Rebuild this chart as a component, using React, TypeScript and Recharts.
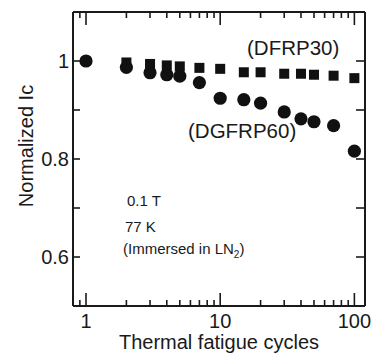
import React from 'react';
import { ScatterChart, Scatter, XAxis, YAxis } from 'recharts';

const cyclesDGFRP60 = [1, 2, 3, 4, 5, 7, 10, 15, 20, 30, 40, 50, 70, 100];
const icDGFRP60 = [1.0, 0.987, 0.976, 0.972, 0.969, 0.956, 0.924, 0.921, 0.914, 0.896, 0.882, 0.876, 0.868, 0.816];
const cyclesDFRP30 = [2, 3, 4, 5, 7, 10, 15, 20, 30, 40, 50, 70, 100];
const icDFRP30 = [0.997, 0.994, 0.991, 0.989, 0.986, 0.984, 0.977, 0.977, 0.974, 0.974, 0.972, 0.970, 0.965];

const xMajorTicks = [1, 10, 100];
const xMinorTicks = [0.9, 2, 3, 4, 5, 6, 7, 8, 9, 20, 30, 40, 50, 60, 70, 80, 90];
const yMajorTicks = [0.6, 0.8, 1.0];
const yMinorTicks = [0.7, 0.9];

const dataDGFRP60 = cyclesDGFRP60.map((c, i) => ({ x: c, y: icDGFRP60[i] }));
const dataDFRP30 = cyclesDFRP30.map((c, i) => ({ x: c, y: icDFRP30[i] }));
const xTicks = [...xMajorTicks, ...xMinorTicks].sort((a, b) => a - b);
const yTicks = [...yMajorTicks, ...yMinorTicks].sort((a, b) => a - b);

const FONT = '"Liberation Sans", Arial, Helvetica, sans-serif';
const INK = '#1a1a1a';

const isMajorX = (v: number) => xMajorTicks.includes(v);
const isMajorY = (v: number) => yMajorTicks.some((t) => Math.abs(t - v) < 1e-9);

const BottomTick = (props: any) => {
  const { x, y, payload } = props;
  const major = isMajorX(payload.value);
  return (
    <g>
      <line x1={x} y1={y} x2={x} y2={y - (major ? 13 : 6)} stroke={INK} strokeWidth={1.6} />
      {major && (
        <text x={x} y={y + 22} textAnchor="middle" fontSize={20} fontFamily={FONT} fill={INK}>
          {String(payload.value)}
        </text>
      )}
    </g>
  );
};

const TopTick = (props: any) => {
  const { x, y, payload } = props;
  const major = isMajorX(payload.value);
  return <line x1={x} y1={y} x2={x} y2={y + (major ? 13 : 6)} stroke={INK} strokeWidth={1.6} />;
};

const LeftTick = (props: any) => {
  const { x, y, payload } = props;
  const major = isMajorY(payload.value);
  return (
    <g>
      <line x1={x} y1={y} x2={x + 7} y2={y} stroke={INK} strokeWidth={1.6} />
      {major && (
        <text x={x - 4} y={y + 7} textAnchor="end" fontSize={20} fontFamily={FONT} fill={INK}>
          {String(Number(payload.value.toFixed(1)))}
        </text>
      )}
    </g>
  );
};

const RightTick = (props: any) => {
  const { x, y } = props;
  return <line x1={x} y1={y} x2={x - 9} y2={y} stroke={INK} strokeWidth={1.6} />;
};

const Circle = (p: any) => <circle cx={p.cx} cy={p.cy} r={6.6} fill="#111" />;
const Square = (p: any) => <rect x={p.cx - 5} y={p.cy - 5} width={10} height={10} fill="#111" />;

const axisLine = { stroke: INK, strokeWidth: 2 };

export default function App() {
  return (
    <div style={{ position: 'absolute', left: 0, top: 0, width: 372, height: 359, background: '#fff' }}>
      <ScatterChart width={372} height={359} margin={{ top: 11, right: 6, bottom: 23, left: 72 }}>
        <XAxis
          xAxisId="b"
          dataKey="x"
          type="number"
          scale="log"
          domain={[0.8, 120]}
          allowDataOverflow
          ticks={xTicks}
          interval={0}
          tickSize={0}
          tickMargin={0}
          tickLine={false}
          axisLine={axisLine}
          tick={<BottomTick />}
          height={30}
          orientation="bottom"
          label={{
            value: 'Thermal fatigue cycles',
            position: 'bottom',
            offset: -1,
            fontSize: 20,
            fontFamily: FONT,
            fill: INK,
          }}
        />
        <XAxis
          xAxisId="t"
          dataKey="x"
          type="number"
          scale="log"
          domain={[0.8, 120]}
          allowDataOverflow
          ticks={xTicks}
          interval={0}
          tickSize={0}
          tickMargin={0}
          tickLine={false}
          axisLine={axisLine}
          tick={<TopTick />}
          height={1}
          orientation="top"
        />
        <YAxis
          yAxisId="l"
          dataKey="y"
          type="number"
          domain={[0.5, 1.1]}
          allowDataOverflow
          ticks={yTicks}
          interval={0}
          tickSize={0}
          tickMargin={0}
          tickLine={false}
          axisLine={axisLine}
          tick={<LeftTick />}
          width={1}
          orientation="left"
          label={{
            content: (lp: any) => {
              const vb = lp.viewBox || { x: 72, y: 12, width: 1, height: 294 };
              const cx = vb.x + (vb.width || 0) - 40;
              const cy = vb.y + vb.height / 2 - 13;
              return (
                <text
                  x={cx}
                  y={cy}
                  transform={`rotate(-90, ${cx}, ${cy})`}
                  textAnchor="middle"
                  fontSize={20}
                  fontFamily={FONT}
                  fill={INK}
                >
                  Normalized Ic
                </text>
              );
            },
          }}
        />
        <YAxis
          yAxisId="r"
          dataKey="y"
          type="number"
          domain={[0.5, 1.1]}
          allowDataOverflow
          ticks={yTicks}
          interval={0}
          tickSize={0}
          tickMargin={0}
          tickLine={false}
          axisLine={axisLine}
          tick={<RightTick />}
          width={1}
          orientation="right"
        />
        <Scatter
          name="DFRP30"
          data={dataDFRP30}
          xAxisId="b"
          yAxisId="l"
          shape={Square}
          isAnimationActive={false}
        />
        <Scatter
          name="DGFRP60"
          data={dataDGFRP60}
          xAxisId="b"
          yAxisId="l"
          shape={Circle}
          isAnimationActive={false}
        />
      </ScatterChart>
      <svg
        width={372}
        height={359}
        style={{ position: 'absolute', left: 0, top: 0, pointerEvents: 'none' }}
        fontFamily={FONT}
        fill={INK}
      >
        <text x={247} y={55} fontSize={20.5}>(DFRP30)</text>
        <text x={188} y={138} fontSize={20.5}>(DGFRP60)</text>
        <text x={127} y={205.5} fontSize={15}>0.1 T</text>
        <text x={125} y={232} fontSize={15}>77 K</text>
        <text x={123} y={254} fontSize={15}>
          (Immersed in LN<tspan fontSize={10} dy={4}>2</tspan>
          <tspan dy={-4}>)</tspan>
        </text>
      </svg>
    </div>
  );
}
